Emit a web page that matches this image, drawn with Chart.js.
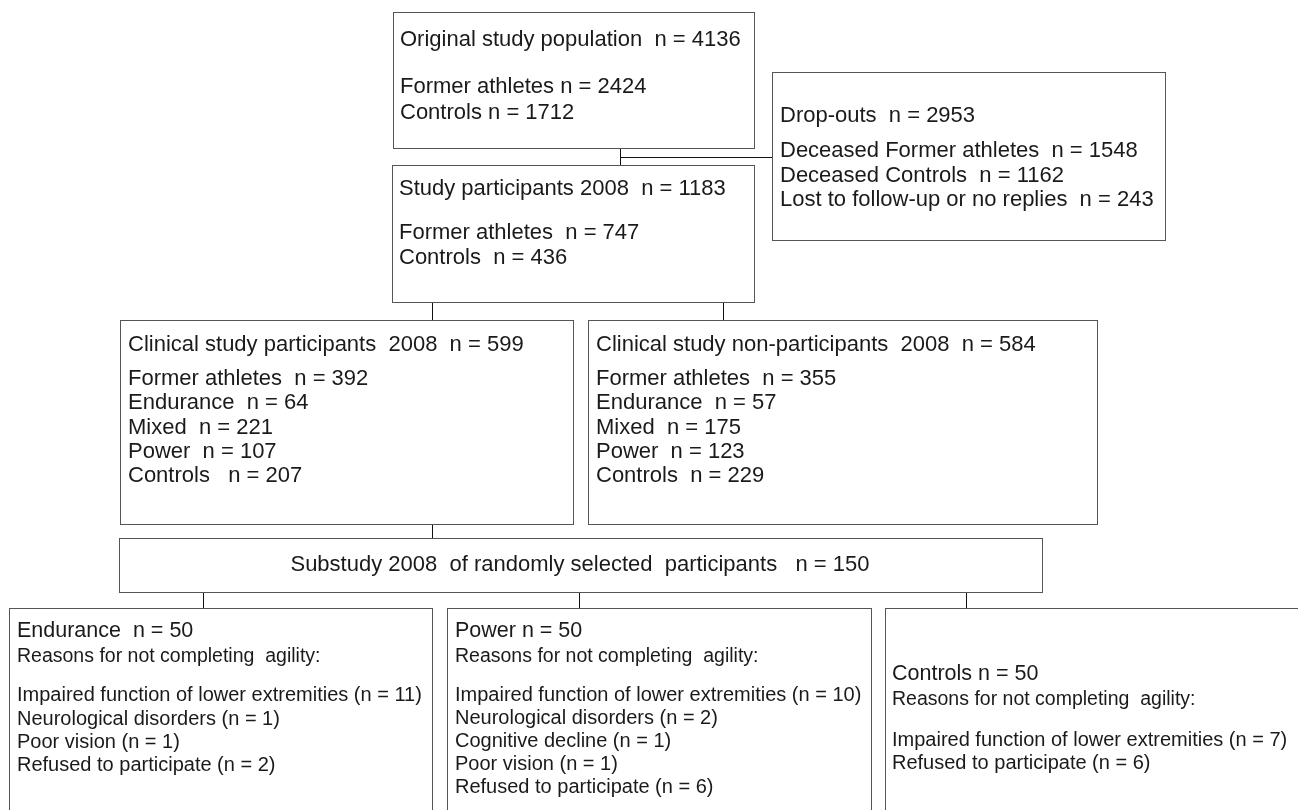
<!DOCTYPE html>
<html><head><meta charset="utf-8">
<script src="https://cdn.jsdelivr.net/npm/chart.js@4.4.1/dist/chart.umd.min.js"></script>
<style>html,body{margin:0;padding:0;background:#fff}#wrap{width:1298px;height:810px}</style>
</head><body><div id="wrap"><canvas id="c" width="1298" height="810"></canvas></div>
<script>
// ---- content (text) ----
const origLines = ["Original study population  n = 4136", "", "Former athletes n = 2424", "Controls n = 1712"];
const dropLines = ["Drop-outs  n = 2953", "Deceased Former athletes  n = 1548", "Deceased Controls  n = 1162", "Lost to follow-up or no replies  n = 243"];
const studyLines = ["Study participants 2008  n = 1183", "Former athletes  n = 747", "Controls  n = 436"];
const clinLines = ["Clinical study participants  2008  n = 599", "Former athletes  n = 392", "Endurance  n = 64", "Mixed  n = 221", "Power  n = 107", "Controls   n = 207"];
const nonLines = ["Clinical study non-participants  2008  n = 584", "Former athletes  n = 355", "Endurance  n = 57", "Mixed  n = 175", "Power  n = 123", "Controls  n = 229"];
const subLines = ["Substudy 2008  of randomly selected  participants   n = 150"];
const endLines = ["Endurance  n = 50", "Reasons for not completing  agility:", "Impaired function of lower extremities (n = 11)", "Neurological disorders (n = 1)", "Poor vision (n = 1)", "Refused to participate (n = 2)"];
const powLines = ["Power n = 50", "Reasons for not completing  agility:", "Impaired function of lower extremities (n = 10)", "Neurological disorders (n = 2)", "Cognitive decline (n = 1)", "Poor vision (n = 1)", "Refused to participate (n = 6)"];
const ctlLines = ["Controls n = 50", "Reasons for not completing  agility:", "Impaired function of lower extremities (n = 7)", "Refused to participate (n = 6)"];

// ---- layout (positions in scale units) ----
const FONT = "'Liberation Sans', Arial, sans-serif";
const boxes = [
  {x0:393,y0:12,x1:754,y1:148, text:origLines, tx:400, ty:[40,null,87,113], size:[22,0,22,22]},
  {x0:772,y0:72,x1:1165,y1:240, text:dropLines, tx:780, ty:[116,151,176,200], size:[22,22,22,22]},
  {x0:392,y0:165,x1:754,y1:302, text:studyLines, tx:399, ty:[189,233,258], size:[22,22,22]},
  {x0:120,y0:320,x1:573,y1:524, text:clinLines, tx:128, ty:[345,379,403,428,452,476], size:[22,22,22,22,22,22]},
  {x0:588,y0:320,x1:1097,y1:524, text:nonLines, tx:596, ty:[345,379,403,428,452,476], size:[22,22,22,22,22,22]},
  {x0:119,y0:538,x1:1042,y1:592, text:subLines, tx:580, ty:[565], size:[22], center:true},
  {x0:9,y0:608,x1:432,y1:830, text:endLines, tx:17, ty:[631,657,695,719,742,765], size:[21.5,19.5,20,20,20,20]},
  {x0:447,y0:608,x1:871,y1:830, text:powLines, tx:455, ty:[631,657,695,718,741,764,787], size:[21.5,19.5,20,20,20,20,20]},
  {x0:885,y0:608,x1:1310,y1:830, text:ctlLines, tx:892, ty:[674,700,740,763], size:[21.5,19.5,20,20]}
];
const connectors = [
  [[620,148],[620,165]], [[620,157],[772,157]],
  [[432,302],[432,320]], [[723,302],[723,320]],
  [[432,524],[432,538]],
  [[203,592],[203,608]], [[579,592],[579,608]], [[966,592],[966,608]]
];

const flowPlugin = {
  id:'flow',
  afterDraw(chart){
    const ctx = chart.ctx, xs = chart.scales.x, ys = chart.scales.y;
    const X = v => Math.round(xs.getPixelForValue(v)) + 0.5;
    const Y = v => Math.round(ys.getPixelForValue(v)) + 0.5;
    ctx.save();
    ctx.strokeStyle = '#111'; ctx.lineWidth = 1;
    connectors.forEach(seg => {
      ctx.beginPath(); ctx.moveTo(X(seg[0][0]), Y(seg[0][1])); ctx.lineTo(X(seg[1][0]), Y(seg[1][1])); ctx.stroke();
    });
    boxes.forEach(b => {
      ctx.strokeStyle = '#555'; ctx.lineWidth = 1;
      ctx.fillStyle = '#fff';
      const x0 = X(b.x0), y0 = Y(b.y0), x1 = X(b.x1), y1 = Y(b.y1);
      ctx.fillRect(x0, y0, x1 - x0, y1 - y0);
      ctx.strokeRect(x0, y0, x1 - x0, y1 - y0);
      ctx.fillStyle = '#1a1a1a';
      ctx.textBaseline = 'middle';
      ctx.textAlign = b.center ? 'center' : 'left';
      b.text.forEach((t, i) => {
        if (!t || b.ty[i] == null) return;
        ctx.font = b.size[i] + 'px ' + FONT;
        ctx.fillText(t, xs.getPixelForValue(b.tx), ys.getPixelForValue(b.ty[i]));
      });
    });
    ctx.restore();
  }
};

new Chart(document.getElementById('c'), {
  type:'scatter',
  data:{datasets:[{data:[], pointRadius:0}]},
  options:{
    responsive:false, animation:false, events:[],
    layout:{padding:0},
    plugins:{legend:{display:false}, tooltip:{enabled:false}},
    scales:{
      x:{type:'linear', min:0, max:1298, display:false},
      y:{type:'linear', min:0, max:810, reverse:true, display:false}
    }
  },
  plugins:[flowPlugin]
});
</script></body></html>
